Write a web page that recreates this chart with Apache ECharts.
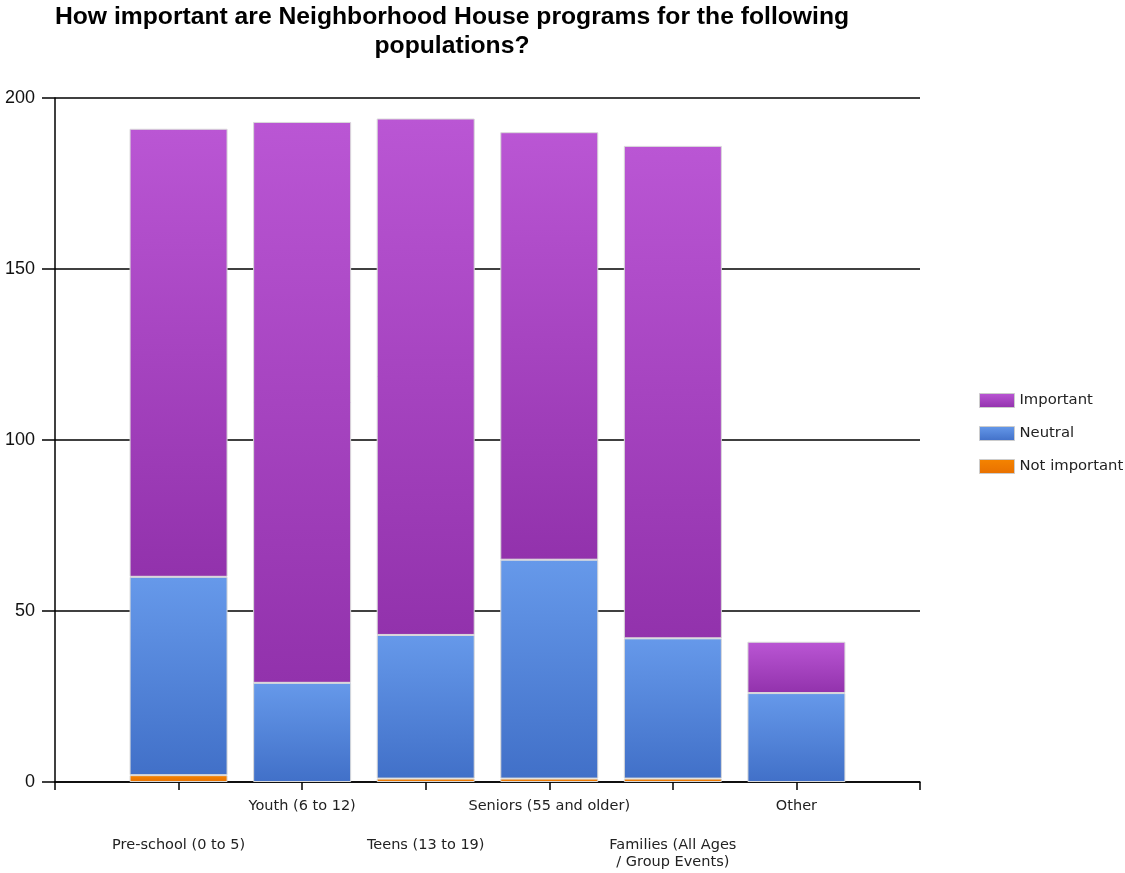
<!DOCTYPE html>
<html>
<head>
<meta charset="utf-8">
<title>Neighborhood House programs</title>
<script src="https://cdn.jsdelivr.net/npm/echarts@6/dist/echarts.min.js"></script>
<style>
  html, body { margin: 0; padding: 0; background: #ffffff; }
  #chart { width: 1125px; height: 873px; }
</style>
</head>
<body>
<div id="chart"></div>
<script>
// Population groups; the empty slots at both ends pad the category axis
const categories = ['', 'Pre-school (0 to 5)', 'Youth (6 to 12)', 'Teens (13 to 19)',
  'Seniors (55 and older)', 'Families (All Ages\n/ Group Events)', 'Other', ''];

// Responses per group (stacked bottom to top: Not important, Neutral, Important)
const notImportant = ['-', 2, 0, 1, 1, 1, 0, '-'];
const neutral      = ['-', 58, 29, 42, 64, 41, 26, '-'];
const important    = ['-', 131, 164, 151, 125, 144, 15, '-'];

const yTicks = { min: 0, max: 200, interval: 50 };

function grad(top, bottom) {
  return new echarts.graphic.LinearGradient(0, 0, 0, 1, [
    { offset: 0, color: top },
    { offset: 1, color: bottom }
  ]);
}

const chart = echarts.init(document.getElementById('chart'), null, { renderer: 'canvas' });

const labelFont = { fontFamily: 'DejaVu Sans', fontSize: 14.5, color: '#222' };

function barSeries(name, data, color) {
  return {
    name: name,
    type: 'bar',
    stack: 'total',
    barWidth: 98,
    // empty segments are left out so no outline is drawn for them
    data: data.map(function (v) { return v === 0 ? '-' : v; }),
    itemStyle: { color: color, borderColor: '#d9d9d9', borderWidth: 1 },
    emphasis: { disabled: true }
  };
}

chart.setOption({
  animation: false,
  backgroundColor: '#ffffff',
  title: {
    text: 'How important are Neighborhood House programs for the following\npopulations?',
    left: 452,
    textAlign: 'center',
    top: 3,
    padding: 0,
    textStyle: {
      fontFamily: 'Liberation Sans',
      fontWeight: 'bold',
      fontSize: 24.7,
      lineHeight: 29,
      color: '#000'
    }
  },
  legend: {
    orient: 'vertical',
    left: 974,
    top: 387,
    itemWidth: 35,
    itemHeight: 14,
    itemGap: 16,
    icon: 'rect',
    data: ['Important', 'Neutral', 'Not important'],
    itemStyle: { borderColor: '#cccccc', borderWidth: 1 },
    textStyle: { fontFamily: 'DejaVu Sans', fontSize: 14.8, color: '#222', lineHeight: 17 }
  },
  grid: { left: 55, right: 205, top: 98, bottom: 91, containLabel: false },
  xAxis: [
    {
      type: 'category',
      data: categories,
      boundaryGap: false,
      axisLine: { lineStyle: { color: '#000', width: 1.5 } },
      axisTick: { show: true, length: 8, interval: 0, alignWithLabel: true,
                  lineStyle: { color: '#000', width: 1.5 } },
      axisLabel: Object.assign({
        interval: 0,
        margin: 17,
        formatter: function (v, i) { return (i % 2 === 0) ? v : ''; }
      }, labelFont),
      splitLine: { show: false }
    },
    {
      type: 'category',
      data: categories,
      boundaryGap: false,
      position: 'bottom',
      axisLine: { show: false },
      axisTick: { show: false },
      axisLabel: Object.assign({
        interval: 0,
        margin: 55,
        lineHeight: 17,
        formatter: function (v, i) { return (i % 2 === 1) ? v : ''; }
      }, labelFont),
      splitLine: { show: false }
    }
  ],
  yAxis: {
    type: 'value',
    min: yTicks.min,
    max: yTicks.max,
    interval: yTicks.interval,
    axisLine: { show: true, lineStyle: { color: '#000', width: 1.5 } },
    axisTick: { show: true, length: 13, lineStyle: { color: '#000', width: 1.5 } },
    axisLabel: { margin: 20, fontFamily: 'Liberation Sans', fontSize: 18, color: '#111' },
    splitLine: { show: true, lineStyle: { color: '#000', width: 1.5 } }
  },
  series: [
    barSeries('Not important', notImportant, grad('#f58400', '#e87000')),
    barSeries('Neutral', neutral, grad('#6699ea', '#4170c8')),
    barSeries('Important', important, grad('#ba56d4', '#9232ac'))
  ]
});
</script>
</body>
</html>
